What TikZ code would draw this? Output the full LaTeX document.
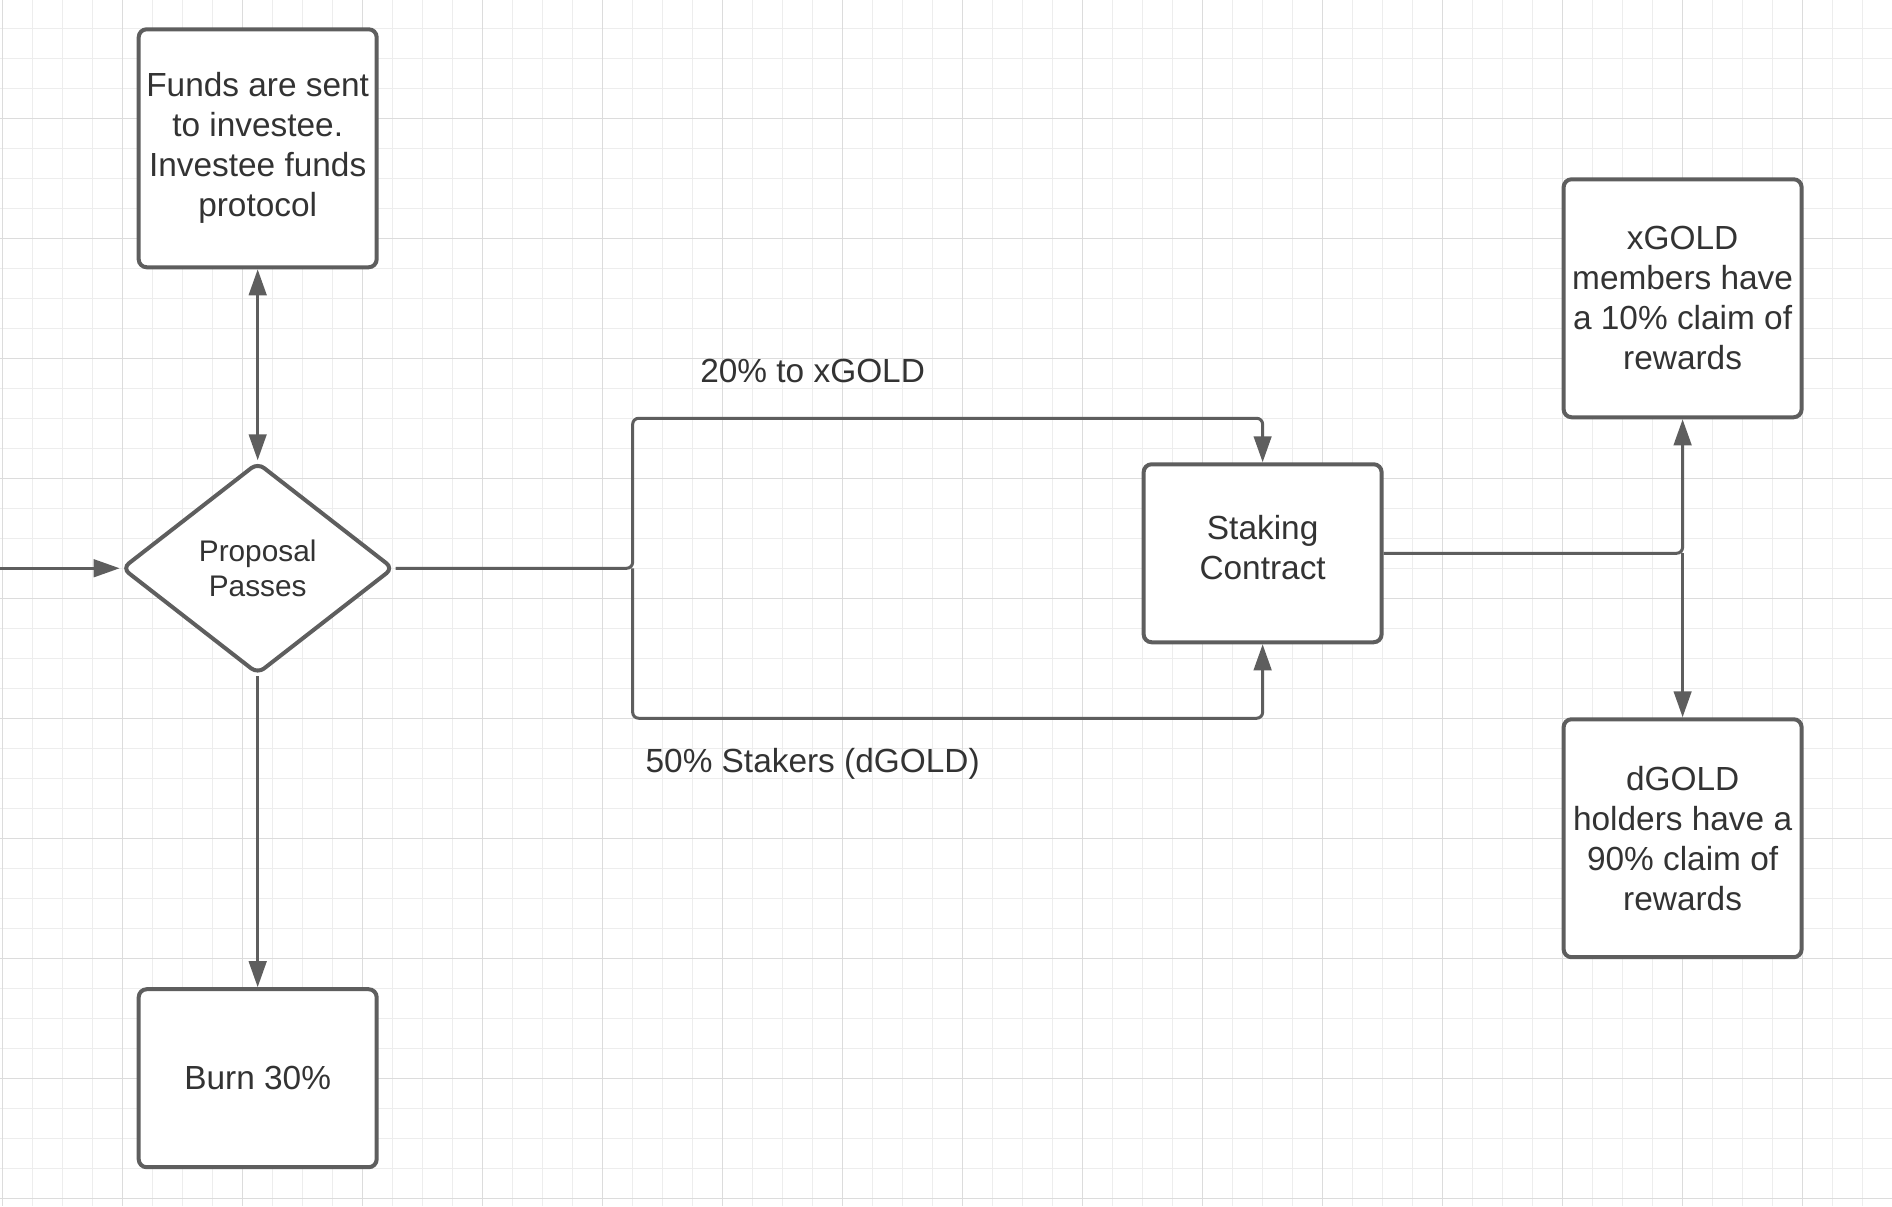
\documentclass[tikz,border=0pt]{standalone}
\usepackage{fontspec}
\setmainfont{Liberation Sans}
\usetikzlibrary{arrows.meta, shapes.geometric}
\definecolor{cline}{HTML}{5E5E5E}
\definecolor{ctext}{HTML}{333333}
\definecolor{cgridminor}{HTML}{EDEDED}
\definecolor{cgridmajor}{HTML}{DCDCDC}
\tikzset{
  every picture/.style={line width=1.5pt},
  box/.style={draw=cline, fill=white, rounded corners=4pt, align=center, line width=2pt, text=ctext,
              font=\fontsize{16.7}{20}\selectfont, inner sep=0pt, minimum width=119pt, minimum height=#1},
  box/.default=119pt,
  decision/.style={diamond, draw=cline, fill=white, rounded corners=4pt, align=center, line width=2pt, text=ctext,
                   font=\fontsize{14.9}{17.5}\selectfont, inner sep=0pt, minimum width=136pt, minimum height=106pt},
  arrow/.style={-{Triangle[length=13pt, width=8.75pt]}, draw=cline, line width=1.5pt},
  twoway/.style={arrow, {Triangle[length=13pt, width=8.75pt]}-{Triangle[length=13pt, width=8.75pt]}},
  link/.style={text=ctext, font=\fontsize{16.7}{20}\selectfont, anchor=base},
  gridline/.style={draw=cgridminor, line width=0.5pt},
  gridmajor/.style={draw=cgridmajor, line width=0.5pt},
}

\begin{document}
\begin{tikzpicture}[x=15pt, y=-15pt]
  % canvas and grid
  \useasboundingbox (-0.09,-0.943) rectangle (62.98,39.26);
  \fill[white] (-0.09,-0.943) rectangle (62.98,39.26);
  \foreach \i in {0,...,62} \draw[gridline] (\i,-0.943) -- (\i,39.26);
  \foreach \j in {0,...,39} \draw[gridline] (-0.09,\j) -- (62.98,\j);
  \foreach \i in {0,4,...,60} \draw[gridmajor] (\i,-0.943) -- (\i,39.26);
  \foreach \j in {3,7,...,39} \draw[gridmajor] (-0.09,\j) -- (62.98,\j);

  % steps
  \node[box] (funds) at (8.5,4) {Funds are sent\\to investee.\\Investee funds\\protocol};
  \node[decision] (prop) at (8.5,18) {Proposal\\Passes};
  \node[box=89pt] (burn) at (8.5,35) {Burn 30\%};
  \node[box=89pt, text depth=6pt] (stake) at (42,17.5) {Staking\\Contract};
  \node[box] (xgold) at (56,9) {xGOLD\\members have\\a 10\% claim of\\rewards};
  \node[box] (dgold) at (56,27) {dGOLD\\holders have a\\90\% claim of\\rewards};

  \coordinate (entry) at (-0.09,18);
  \coordinate (split) at (21,18);
  \coordinate (upper) at (21,13);
  \coordinate (lower) at (21,23);
  \coordinate (fork) at (stake.east -| xgold.south);

  % flows
  \draw[arrow] (entry) -- (prop.west);
  \draw[twoway] (prop.north) -- (funds.south);
  \draw[arrow] (prop.south) -- (burn.north);
  \draw[arrow, rounded corners=3pt] (prop.east) -- (split) -- (upper) -| (stake.north);
  \draw[arrow, rounded corners=3pt] (split) -- (lower) -| (stake.south);
  \draw[arrow, rounded corners=3pt] (stake.east) -| (xgold.south);
  \draw[arrow] (fork) -- (dgold.north);

  \node[link] (toxgold) at (27,11.8) {20\% to xGOLD};
  \node[link] (tostakers) at (27,24.8) {50\% Stakers (dGOLD)};
\end{tikzpicture}
\end{document}
